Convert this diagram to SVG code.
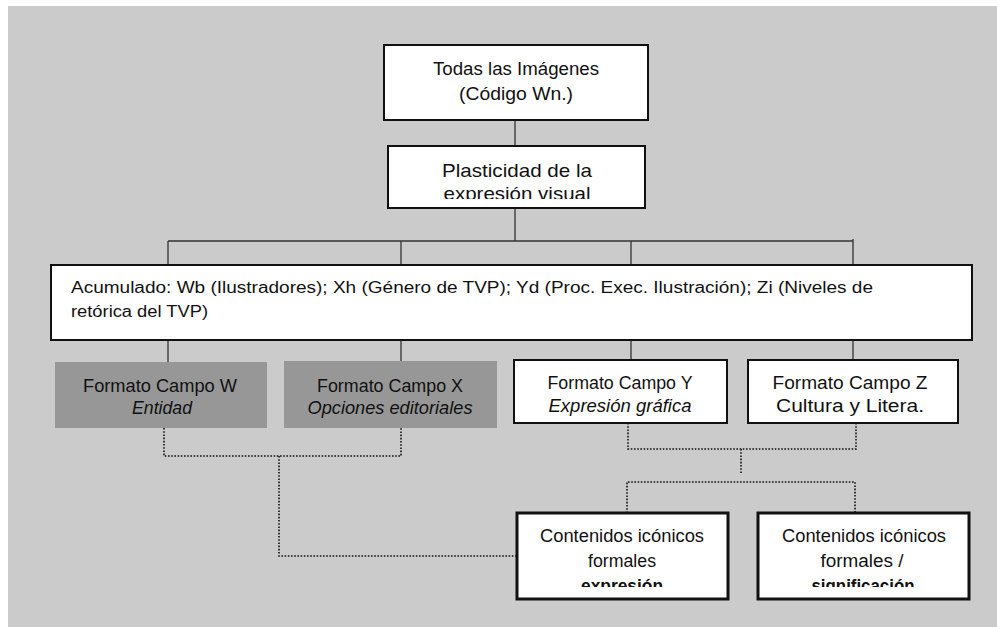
<svg xmlns="http://www.w3.org/2000/svg" width="997" height="627" viewBox="0 0 997 627">
  <style>
    text { font-family: "Liberation Sans", Arial, sans-serif; fill: #111; text-anchor: middle; }
    .box { fill: #fff; stroke: #111; stroke-width: 2; }
    .thick { fill: #fff; stroke: #111; stroke-width: 3; }
    .grey { fill: #979797; stroke: none; }
    .link { fill: none; stroke: #333; stroke-width: 1.3; }
    .dot { fill: none; stroke: #111; stroke-width: 1.6; stroke-dasharray: 1.6 1.6; }
    .lt { font-size: 17.5px; }
    .it { font-size: 17.5px; font-style: italic; }
    .b { font-weight: bold; }
  </style>
  <defs>
    <clipPath id="clipPlast"><rect x="388" y="146" width="257" height="53"/></clipPath>
    <clipPath id="clipExpr"><rect x="517" y="513" width="211" height="74"/></clipPath>
    <clipPath id="clipSign"><rect x="758" y="513" width="211" height="74"/></clipPath>
  </defs>

  <!-- background panel -->
  <rect x="8" y="6" width="989" height="621" fill="#cbcbcb"/>

  <!-- connectors -->
  <g id="connectors">
    <path class="link" d="M515 120 V241"/>
    <path class="link" d="M168 241 H853"/>
    <path class="link" d="M168 241 V265 M401 241 V265 M631 241 V265 M853 239 V265"/>
    <path class="link" d="M168 340 V362 M401 340 V361 M631 340 V360 M853 340 V360"/>
    <path class="dot" d="M164 428 V456 H401 V428"/>
    <path class="dot" d="M279 456 V556 H517"/>
    <path class="dot" d="M628 423 V449 H856 V423"/>
    <path class="dot" d="M741 449 V474"/>
    <path class="dot" d="M627 513 V482 H855 V512"/>
  </g>

  <g id="todas">
    <rect class="box" x="384" y="45" width="264" height="75"/>
    <text class="lt" x="516" y="75" textLength="166" lengthAdjust="spacingAndGlyphs">Todas las Imágenes</text>
    <text class="lt" x="516" y="100" textLength="114" lengthAdjust="spacingAndGlyphs">(Código Wn.)</text>
  </g>

  <g id="plasticidad">
    <rect class="box" x="388" y="146" width="257" height="62"/>
    <g clip-path="url(#clipPlast)">
      <text x="517" y="177" font-size="19" textLength="150" lengthAdjust="spacingAndGlyphs">Plasticidad de la</text>
      <text x="517" y="200" font-size="19" textLength="147" lengthAdjust="spacingAndGlyphs">expresión visual</text>
    </g>
  </g>

  <g id="acumulado">
    <rect class="box" x="51" y="265" width="921" height="75"/>
    <text x="71" y="293" font-size="16" style="text-anchor:start" textLength="802" lengthAdjust="spacingAndGlyphs">Acumulado: Wb (Ilustradores); Xh (Género de TVP); Yd (Proc. Exec. Ilustración); Zi (Niveles de</text>
    <text x="71" y="317" font-size="16" style="text-anchor:start" textLength="137" lengthAdjust="spacingAndGlyphs">retórica del TVP)</text>
  </g>

  <g id="campoW">
    <rect class="grey" x="55" y="362" width="212" height="66"/>
    <text class="lt" x="160" y="392" textLength="154" lengthAdjust="spacingAndGlyphs">Formato Campo W</text>
    <text class="it" x="162" y="414" textLength="60" lengthAdjust="spacingAndGlyphs">Entidad</text>
  </g>

  <g id="campoX">
    <rect class="grey" x="284" y="361" width="213" height="67"/>
    <text class="lt" x="390" y="392" textLength="146" lengthAdjust="spacingAndGlyphs">Formato Campo X</text>
    <text class="it" x="390" y="414" textLength="165" lengthAdjust="spacingAndGlyphs">Opciones editoriales</text>
  </g>

  <g id="campoY">
    <rect class="box" x="514" y="360" width="213" height="63"/>
    <text class="lt" x="620" y="389" textLength="145" lengthAdjust="spacingAndGlyphs">Formato Campo Y</text>
    <text class="it" x="620" y="412" textLength="143" lengthAdjust="spacingAndGlyphs">Expresión gráfica</text>
  </g>

  <g id="campoZ">
    <rect class="box" x="748" y="360" width="210" height="63"/>
    <text class="lt" x="850" y="389" textLength="155" lengthAdjust="spacingAndGlyphs">Formato Campo Z</text>
    <text class="lt" x="850" y="412" textLength="148" lengthAdjust="spacingAndGlyphs">Cultura y Litera.</text>
  </g>

  <g id="expresion">
    <rect class="thick" x="517" y="513" width="211" height="86"/>
    <g clip-path="url(#clipExpr)">
      <text class="lt" x="622" y="542" textLength="164" lengthAdjust="spacingAndGlyphs">Contenidos icónicos</text>
      <text class="lt" x="622" y="567" textLength="68" lengthAdjust="spacingAndGlyphs">formales</text>
      <text class="lt b" x="622" y="592" textLength="82" lengthAdjust="spacingAndGlyphs">expresión</text>
    </g>
  </g>

  <g id="significacion">
    <rect class="thick" x="758" y="513" width="211" height="86"/>
    <g clip-path="url(#clipSign)">
      <text class="lt" x="864" y="542" textLength="164" lengthAdjust="spacingAndGlyphs">Contenidos icónicos</text>
      <text class="lt" x="862" y="567" textLength="83" lengthAdjust="spacingAndGlyphs">formales /</text>
      <text class="lt b" x="863" y="592" textLength="103" lengthAdjust="spacingAndGlyphs">significación</text>
    </g>
  </g>
</svg>
